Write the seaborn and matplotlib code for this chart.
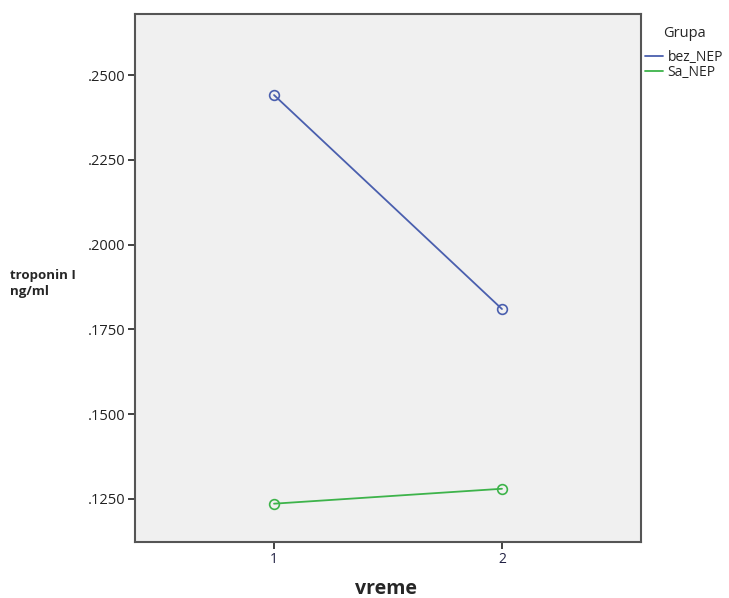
import matplotlib
matplotlib.use("Agg")
import matplotlib.pyplot as plt
from matplotlib.lines import Line2D
import seaborn as sns
import pandas as pd

# Mean troponin I by time point and group
vreme = [1, 2]
bez_nep = [0.2441, 0.1810]
sa_nep = [0.1236, 0.1280]
groups = ["bez_NEP", "Sa_NEP"]
y_ticks = [0.1250, 0.1500, 0.1750, 0.2000, 0.2250, 0.2500]
colors = {"bez_NEP": "#4a5fae", "Sa_NEP": "#3db34a"}

df = pd.DataFrame({
    "vreme": vreme * 2,
    "troponin": bez_nep + sa_nep,
    "Grupa": [groups[0]] * len(vreme) + [groups[1]] * len(vreme),
})

sns.set_theme(style="white")
plt.rcParams["font.family"] = ["Open Sans", "DejaVu Sans"]

fig = plt.figure(figsize=(7.29, 5.98), dpi=100)
ax = fig.add_axes([135 / 729, 1 - 542 / 598, (641 - 135) / 729, (542 - 14) / 598])
ax.set_facecolor("#f0f0f0")

sns.lineplot(data=df, x="vreme", y="troponin", hue="Grupa", palette=colors,
             marker="o", markersize=7, markerfacecolor="none",
             markeredgewidth=1.2, linewidth=1.3, legend=False, ax=ax)
# open circles take the line colour
for line, g in zip(ax.lines, groups):
    line.set_markeredgecolor(colors[g])

ax.set_xlim(0.39, 2.61)
ax.set_ylim(0.1123, 0.268)
ax.set_xticks(vreme)
ax.set_xticklabels([str(v) for v in vreme], fontsize=10, color="#222244")
ax.set_yticks(y_ticks)
ax.set_yticklabels([f"{t:.4f}"[1:] for t in y_ticks], fontsize=10.5, color="#222222")
ax.tick_params(axis="both", direction="out", length=5, width=1.3, color="#333333",
               bottom=True, left=True, pad=2)

for side in ["left", "bottom", "top", "right"]:
    ax.spines[side].set_visible(True)
    ax.spines[side].set_color("#555555")
    ax.spines[side].set_linewidth(1.5)

ax.set_xlabel("")
ax.set_ylabel("")
fig.text(386 / 729, 1 - 589 / 598, "vreme", fontsize=14, fontweight="bold",
         ha="center", va="center")
fig.text(10 / 729, 1 - 284 / 598, "troponin I\nng/ml", fontsize=9.5, fontweight="bold",
         ha="left", va="center", linespacing=1.3)

handles = [Line2D([0], [0], color=colors[g], linewidth=1.3) for g in groups]
leg = fig.legend(handles, groups, title="Grupa", loc="upper left",
                 bbox_to_anchor=(641 / 729, 1 - 22 / 598), frameon=False,
                 fontsize=10, title_fontsize=10.5, handlelength=1.3,
                 handletextpad=0.3, labelspacing=0.0, borderpad=0.1,
                 borderaxespad=0.2)
leg._legend_box.align = "center"
leg._legend_box.sep = 6

fig.savefig("out.png", dpi=100)
